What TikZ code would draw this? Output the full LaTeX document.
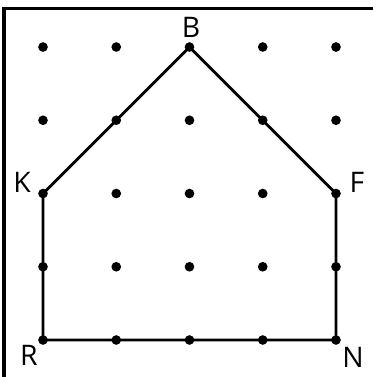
\documentclass[tikz,border=0pt]{standalone}
\usepackage{fontspec}
\setmainfont{Open Sans}
\usepackage{tikz}
\usetikzlibrary{positioning}

\begin{document}
\begin{tikzpicture}[x=0.0273cm,y=-0.0273cm,
  dot/.style={circle,fill=black,inner sep=0pt,minimum size=7.5pt},
  lbl/.style={font=\fontsize{22}{22}\selectfont,inner sep=0pt}]
\useasboundingbox (0,0) rectangle (373,377);
% frame
\draw[line width=2.6pt] (4,400) -- (4,8.5) -- (400,8.5);
% grid of dots
\foreach \i in {0,...,4}
  \foreach \j in {0,...,4}
    \node[dot] (p\i\j) at (43+73.25*\i,340-73.25*\j) {};
% house
\draw[line width=2.2pt,line join=round] (p00.center) -- (p40.center) -- (p42.center) -- (p24.center) -- (p02.center) -- cycle;
% letters
\node[lbl] (B) at (191,27) {B};
\node[lbl] (K) at (22,182) {K};
\node[lbl] (F) at (357,182) {F};
\node[lbl] (R) at (29,355) {R};
\node[lbl] (N) at (353,357) {N};
\end{tikzpicture}
\end{document}
